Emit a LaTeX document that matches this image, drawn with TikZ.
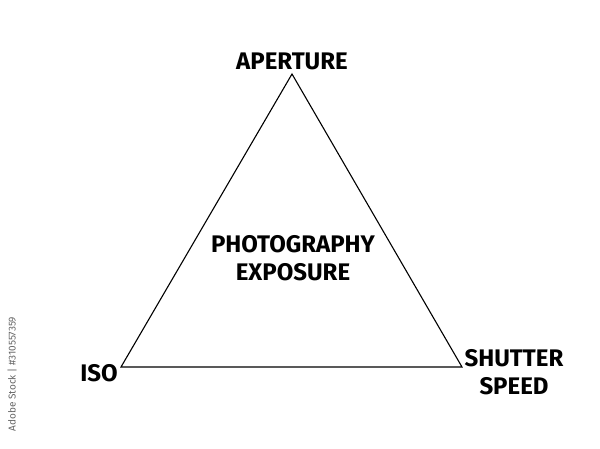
\documentclass[tikz,border=0pt]{standalone}
\usepackage{fontspec}
\setmainfont{Fira Sans}
\begin{document}
\begin{tikzpicture}[x=1pt,y=-1pt,
  lbl/.style={font=\fontsize{24}{28}\selectfont\bfseries, inner sep=0pt, align=center, text=black},
  edge/.style={draw=black, line width=1.1pt, line join=miter}]
\useasboundingbox (0,0) rectangle (600,448);
\fill[white] (0,0) rectangle (600,448);
\coordinate (A) at (292,74);
\coordinate (L) at (121,367);
\coordinate (R) at (462,367);
\draw[edge] (A) -- (L) -- (R) -- cycle;
\node[lbl] (ap) at (292,61) {APERTURE};
\node[lbl] (iso) at (99,373) {ISO};
\node[lbl] (sh) at (514,372) {SHUTTER\\SPEED};
\node[lbl] (ex) at (293,258) {PHOTOGRAPHY\\EXPOSURE};
\node[rotate=90, font=\fontsize{10}{11}\selectfont, text=black!60, inner sep=0pt] (wm) at (12,374) {Adobe Stock | \#310557359};
\end{tikzpicture}
\end{document}
